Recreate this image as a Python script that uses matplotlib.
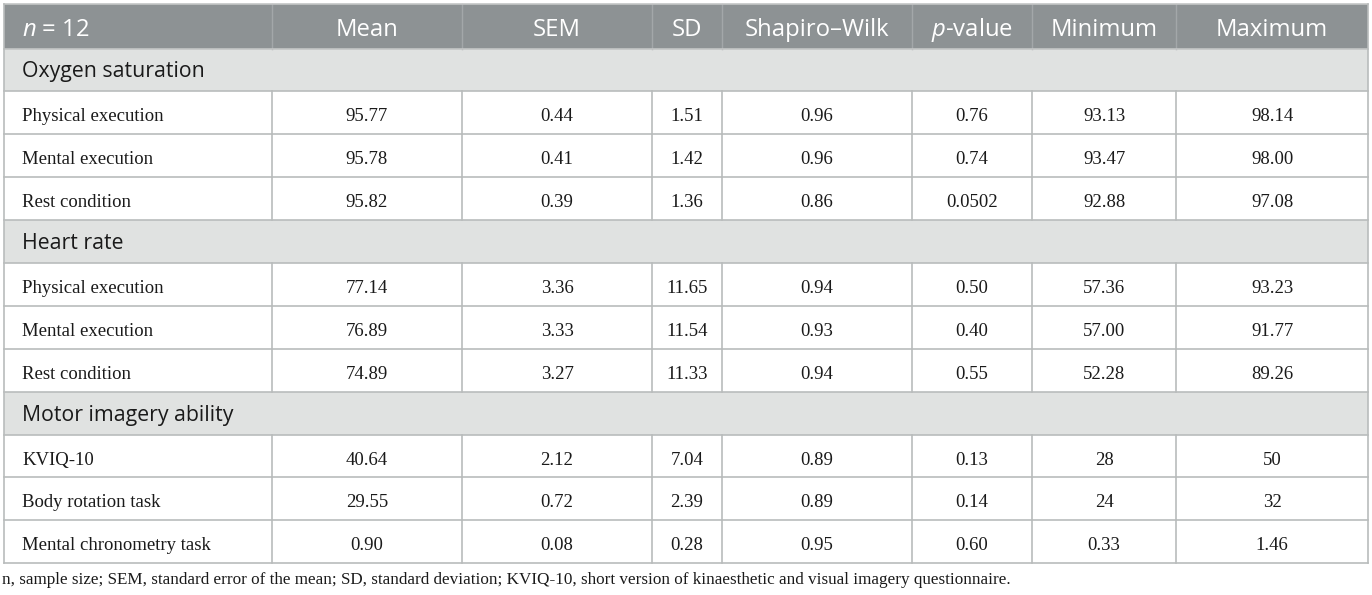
import matplotlib
matplotlib.use("Agg")
import matplotlib.pyplot as plt
from matplotlib.patches import Rectangle

plt.rcParams['mathtext.fontset'] = 'custom'
plt.rcParams['mathtext.rm'] = 'Open Sans'
plt.rcParams['mathtext.it'] = 'Open Sans:italic'

# ---- data ----
headers = ["$n$ = 12", "Mean", "SEM", "SD", "Shapiro\u2013Wilk", "$p$-value", "Minimum", "Maximum"]

sections = ["Oxygen saturation", "Heart rate", "Motor imagery ability"]

row_labels_oxygen = ["Physical execution", "Mental execution", "Rest condition"]
values_oxygen = [
    ["95.77", "0.44", "1.51", "0.96", "0.76", "93.13", "98.14"],
    ["95.78", "0.41", "1.42", "0.96", "0.74", "93.47", "98.00"],
    ["95.82", "0.39", "1.36", "0.86", "0.0502", "92.88", "97.08"],
]

row_labels_heart = ["Physical execution", "Mental execution", "Rest condition"]
values_heart = [
    ["77.14", "3.36", "11.65", "0.94", "0.50", "57.36", "93.23"],
    ["76.89", "3.33", "11.54", "0.93", "0.40", "57.00", "91.77"],
    ["74.89", "3.27", "11.33", "0.94", "0.55", "52.28", "89.26"],
]

row_labels_motor = ["KVIQ-10", "Body rotation task", "Mental chronometry task"]
values_motor = [
    ["40.64", "2.12", "7.04", "0.89", "0.13", "28", "50"],
    ["29.55", "0.72", "2.39", "0.89", "0.14", "24", "32"],
    ["0.90", "0.08", "0.28", "0.95", "0.60", "0.33", "1.46"],
]

footnote = ("n, sample size; SEM, standard error of the mean; SD, standard deviation; "
            "KVIQ-10, short version of kinaesthetic and visual imagery questionnaire.")

# ---- layout / style ----
W, H = 1372, 595
col_edges = [4, 272, 462, 652, 722, 912, 1032, 1176, 1368]
header_top, header_h = 4, 44.5
row_h = 42.9
header_bg = "#8d9294"
section_bg = "#e0e2e1"
line_c = "#b9bcbc"
sans = "Open Sans"
serif = "Liberation Serif"
text_c = "#1a1a1a"

fig = plt.figure(figsize=(W / 100, H / 100), dpi=100)
ax = fig.add_axes([0, 0, 1, 1])
ax.set_xlim(0, W)
ax.set_ylim(H, 0)
ax.axis("off")

left, right = col_edges[0], col_edges[-1]

rows = []  # (kind, label, values)
for sec, labels, vals in zip(sections,
                             [row_labels_oxygen, row_labels_heart, row_labels_motor],
                             [values_oxygen, values_heart, values_motor]):
    rows.append(("section", sec, None))
    for lab, v in zip(labels, vals):
        rows.append(("data", lab, v))

# header
y = header_top
ax.add_patch(Rectangle((left, y), right - left, header_h, facecolor=header_bg, edgecolor="none"))
for i, h in enumerate(headers):
    if i == 0:
        ax.text(col_edges[0] + 18, y + 32, h, ha="left", va="baseline", color="white",
                fontsize=17.2, family=sans)
    else:
        ax.text((col_edges[i] + col_edges[i + 1]) / 2, y + 32, h, ha="center", va="baseline",
                color="white", fontsize=17.2, family=sans)
for x in col_edges[1:-1]:
    ax.plot([x, x], [y, y + header_h], color="#a3a7a9", lw=1)
y += header_h
ax.plot([left, right], [y, y], color="#c4c6c6", lw=1.2)

for kind, lab, vals in rows:
    if kind == "section":
        ax.add_patch(Rectangle((left, y), right - left, row_h, facecolor=section_bg, edgecolor="none"))
        ax.text(col_edges[0] + 18, y + 29, lab, ha="left", va="baseline", color=text_c,
                fontsize=15.3, family=sans)
    else:
        ax.text(col_edges[0] + 18, y + 30, lab, ha="left", va="baseline", color=text_c,
                fontsize=13.5, family=serif)
        for i, v in enumerate(vals):
            ax.text((col_edges[i + 1] + col_edges[i + 2]) / 2, y + 30, v, ha="center",
                    va="baseline", color=text_c, fontsize=13.5, family=serif)
        for x in col_edges[1:-1]:
            ax.plot([x, x], [y, y + row_h], color=line_c, lw=1.2)
    y += row_h
    ax.plot([left, right], [y, y], color=line_c, lw=1.2)

bottom = y
# outer border
ax.plot([left, right], [header_top, header_top], color="#c4c6c6", lw=1.2)
ax.plot([left, left], [header_top, bottom], color=line_c, lw=1.2)
ax.plot([right, right], [header_top, bottom], color=line_c, lw=1.2)

ax.text(2, 584, footnote, ha="left", va="baseline", color=text_c, fontsize=12.3, family=serif)

fig.savefig("out.png", dpi=100)
